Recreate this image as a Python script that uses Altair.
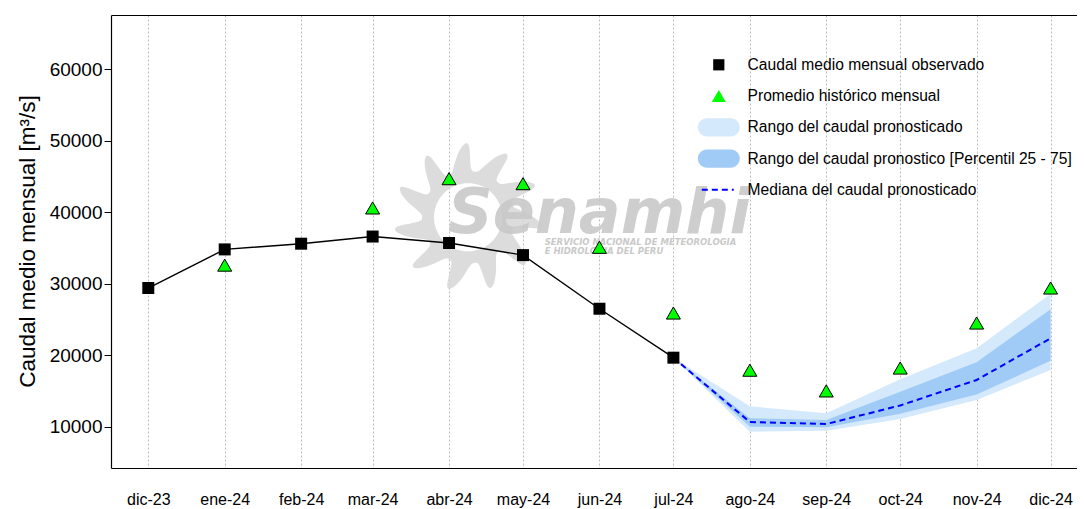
import json
import math
import altair as alt
import pandas as pd

# ---------------- data ----------------
meses = ["dic-23", "ene-24", "feb-24", "mar-24", "abr-24", "may-24", "jun-24",
         "jul-24", "ago-24", "sep-24", "oct-24", "nov-24", "dic-24"]
fechas = ["2023-12-01", "2024-01-01", "2024-02-01", "2024-03-01", "2024-04-01",
          "2024-05-01", "2024-06-01", "2024-07-01", "2024-08-01", "2024-09-01",
          "2024-10-01", "2024-11-01", "2024-12-01"]

# observed monthly mean discharge (dic-23 .. jul-24)
observado = [29400, 34800, 35600, 36600, 35700, 34000, 26500, 19650]

# historical monthly mean (None = not shown)
historico = [None, 32600, None, 40600, 44700, 44000, 35100, 25900,
             17900, 15000, 18200, 24500, 29400]

# forecast (jul-24 .. dic-24)
fechas_pron = fechas[7:]
mediana = [19650, 10650, 10370, 12960, 16530, 22360]
rango_min = [19650, 9290, 9430, 11070, 13730, 17930]
rango_max = [19650, 12850, 11870, 16640, 20960, 28600]
p25 = [19650, 9990, 9910, 11810, 14500, 19210]
p75 = [19650, 11170, 10930, 14890, 19020, 26430]

y_ticks = [10000, 20000, 30000, 40000, 50000, 60000]

leyenda = ["Caudal medio mensual observado",
           "Promedio histórico mensual",
           "Rango del caudal pronosticado",
           "Rango del caudal pronostico [Percentil 25 - 75]",
           "Mediana del caudal pronosticado"]

# ---------------- styles ----------------
FONT = "Liberation Sans"
C_LIGHT = "#D5E9FC"
C_MID = "#A0CBF6"
C_GREEN = "#00FF00"
C_BLUE = "#0000FF"
colores_leyenda = ["#000000", C_GREEN, C_LIGHT, C_MID, C_BLUE]

PAD_BOUNDS = " M0,-1.31 M0,1.31"   # equal symbol bounds for uniform legend rows
SQ = "M-0.8,-0.8H0.8V0.8H-0.8Z" + PAD_BOUNDS
TRI = "M0,-0.86L1,0.86L-1,0.86Z" + PAD_BOUNDS
BAND = "M-1.7,-1.3H1.7A1.3,1.3 0 0 1 1.7,1.3H-1.7A1.3,1.3 0 0 1 -1.7,-1.3Z"
DASH = ("M-2.43,-0.15H-1.57V0.15H-2.43Z M-1,-0.15H-0.14V0.15H-1Z "
        "M0.43,-0.15H1.29V0.15H0.43Z M1.86,-0.15H2.14V0.15H1.86Z" + PAD_BOUNDS)
formas_leyenda = [SQ, TRI, BAND, BAND, DASH]


def sun_path(n=11, r_in=0.46, r_base=0.62, r_tip=1.0, steps=330):
    pts = []
    for i in range(steps):
        t = 2 * math.pi * i / steps
        w = ((1 + math.cos(n * t)) / 2) ** 1.6
        r = r_base + (r_tip - r_base) * w
        tt = t + 0.12 * w
        pts.append((r * math.cos(tt), r * math.sin(tt)))
    outer = "M" + "L".join(f"{x:.3f},{y:.3f}" for x, y in pts) + "Z"
    inner_pts = [(r_in * math.cos(-2 * math.pi * i / 60), r_in * math.sin(-2 * math.pi * i / 60)) for i in range(60)]
    inner = "M" + "L".join(f"{x:.3f},{y:.3f}" for x, y in inner_pts) + "Z"
    return outer + " " + inner


# ---------------- tables ----------------
obs_df = pd.DataFrame({"fecha": fechas[:len(observado)], "valor": observado})
hist_df = pd.DataFrame({
    "fecha": [f for f, v in zip(fechas, historico) if v is not None],
    "valor": [v for v in historico if v is not None],
})
pron_df = pd.DataFrame({"fecha": fechas_pron, "mediana": mediana, "rmin": rango_min,
                        "rmax": rango_max, "p25": p25, "p75": p75})
leg_df = pd.DataFrame({"serie": leyenda, "fecha": [fechas[0]] * len(leyenda)})
wm_sun = pd.DataFrame({"fecha": ["2024-04-08T17:00:00Z"], "valor": [39300]})
wm_txt = pd.DataFrame({"fecha": ["2024-03-31T14:00:00Z"], "valor": [37137], "t": ["Senamhi"]})
wm_sub = pd.DataFrame({"fecha": ["2024-05-09T19:00:00Z", "2024-05-09T19:00:00Z"],
                       "valor": [35900, 34600],
                       "t": ["SERVICIO NACIONAL DE METEOROLOGIA", "E HIDROLOGIA DEL PERU"]})

# ---------------- scales / axes ----------------
x_scale = alt.Scale(type="utc", domain=[
    alt.DateTime(year=2023, month=11, date=15, hours=21, utc=True),
    alt.DateTime(year=2024, month=12, date=11, hours=17, utc=True)])
y_scale = alt.Scale(domain=[4214, 67600], nice=False, zero=False)

tick_vals = [alt.DateTime(year=int(f[:4]), month=int(f[5:7]), date=1, utc=True) for f in fechas]
label_expr = f"{json.dumps(meses)}[(utcyear(datum.value)-2023)*12 + utcmonth(datum.value) - 11]"

x_bottom = alt.Axis(values=tick_vals, labelExpr=label_expr, title=None, ticks=False,
                    labelPadding=23, labelFontSize=16, labelFont=FONT, labelColor="black",
                    grid=True, gridColor="#BDBDBD", gridDash=[2, 2], gridWidth=1,
                    domainColor="black", domainWidth=1.2, labelFlush=False, labelOverlap=False)
x_top = alt.Axis(orient="top", labels=False, ticks=False, grid=False, title=None,
                 domainColor="black", domainWidth=1.2)
y_axis = alt.Axis(values=y_ticks, format="d", grid=False, tickSize=7, tickColor="black",
                  tickWidth=1, labelPadding=2, labelFontSize=19, labelFont=FONT,
                  labelColor="black", domainColor="black", domainWidth=1.2,
                  title="Caudal medio mensual  [m³/s]", titleFont=FONT, titleFontSize=22.5,
                  titleFontWeight="normal", titleColor="black", titleAngle=270,
                  titleAlign="center", titleBaseline="alphabetic", titleX=-77, titleY=226)

X = lambda axis=None: alt.X("fecha:T", scale=x_scale, axis=axis)
Y = lambda f, axis=None: alt.Y(f, scale=y_scale, axis=axis)

# ---------------- layers ----------------
sun = alt.Chart(wm_sun).mark_point(shape=sun_path(), filled=True, size=22000,
                                   color="#D6D6D6", opacity=0.85).encode(
    x=X(), y=Y("valor:Q"))
wm_text = alt.Chart(wm_txt).mark_text(font="DejaVu Sans", fontSize=62, fontStyle="italic",
                                      fontWeight="bold", color="#C9C9C9", align="left",
                                      baseline="alphabetic", opacity=0.9).encode(
    x=X(), y=Y("valor:Q"), text="t:N")
wm_sub_text = alt.Chart(wm_sub).mark_text(font="DejaVu Sans", fontSize=8.5, fontStyle="italic",
                                          fontWeight="bold", color="#C9C9C9", align="left",
                                          baseline="middle").encode(
    x=X(), y=Y("valor:Q"), text="t:N")

outer = alt.Chart(pron_df).mark_area(color=C_LIGHT, opacity=1).encode(
    x=X(x_bottom), y=Y("rmin:Q", y_axis), y2="rmax:Q")
inner = alt.Chart(pron_df).mark_area(color=C_MID, opacity=1).encode(
    x=X(), y=Y("p25:Q"), y2="p75:Q")
obs_line = alt.Chart(obs_df).mark_line(color="black", strokeWidth=1.4).encode(
    x=X(), y=Y("valor:Q"))
med_line = alt.Chart(pron_df).mark_line(color=C_BLUE, strokeWidth=2, strokeDash=[6, 4]).encode(
    x=X(), y=Y("mediana:Q"))
obs_pts = alt.Chart(obs_df).mark_point(shape="square", filled=True, size=144, color="black",
                                       opacity=1).encode(x=X(), y=Y("valor:Q"))
hist_pts = alt.Chart(hist_df).mark_point(shape="triangle-up", filled=True, size=196,
                                         fill=C_GREEN, stroke="black", strokeWidth=1,
                                         opacity=1).encode(x=X(), y=Y("valor:Q"))

leg = alt.Legend(orient="none", legendX=600, legendY=42, title=None, symbolSize=196,
                 labelOffset=21, labelFontSize=15.6, labelFont=FONT, labelColor="black",
                 labelLimit=600, rowPadding=12.25, symbolStrokeWidth=0, padding=0,
                 symbolOpacity=1)
legend_layer = alt.Chart(leg_df).mark_point(filled=True, opacity=1).encode(
    x=X(x_top),
    color=alt.Color("serie:N", scale=alt.Scale(domain=leyenda, range=colores_leyenda), legend=leg),
    shape=alt.Shape("serie:N", scale=alt.Scale(domain=leyenda, range=formas_leyenda), legend=leg),
).transform_filter("false")

chart = alt.layer(
    sun, wm_text, wm_sub_text, outer, inner, obs_line, med_line, obs_pts, hist_pts, legend_layer
).resolve_axis(x="independent", y="independent").properties(
    width=966, height=453,
    autosize=alt.AutoSizeParams(type="none"),
    padding={"left": 103, "top": 7, "right": 0, "bottom": 40},
    background="white",
).configure_view(stroke=None)

chart.save("out.html", embed_options={"renderer": "svg", "actions": False})
